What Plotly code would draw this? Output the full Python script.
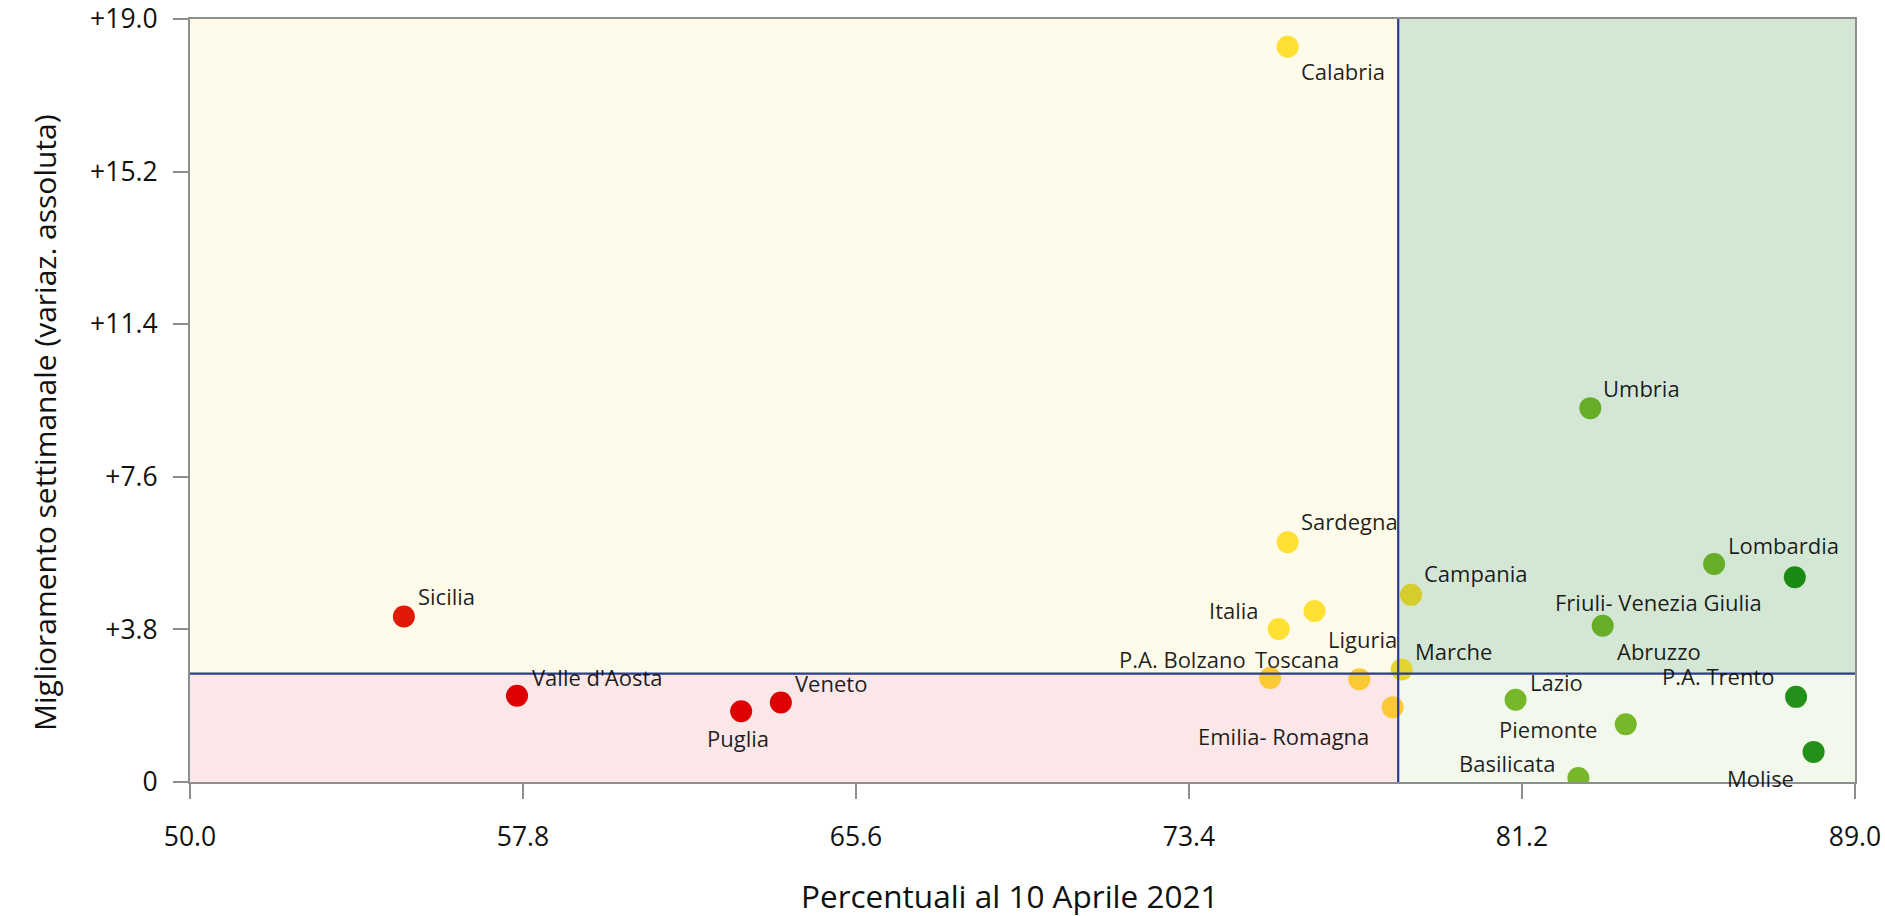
import plotly.graph_objects as go

# ---------------- data ----------------
REGIONS = ["Calabria", "Sardegna", "Italia", "Liguria", "P.A. Bolzano", "Toscana",
           "Emilia- Romagna", "Marche", "Campania", "Umbria", "Lombardia",
           "Friuli- Venezia Giulia", "Abruzzo", "Lazio", "P.A. Trento", "Piemonte",
           "Basilicata", "Molise", "Sicilia", "Valle d'Aosta", "Puglia", "Veneto"]
PCT = [75.71, 75.71, 75.50, 76.34, 75.30, 77.39,
       78.17, 78.38, 78.60, 82.80, 85.70,
       87.59, 83.09, 81.05, 87.62, 83.63,
       82.52, 88.03, 55.01, 57.66, 62.91, 63.84]
IMPROVEMENT = [18.31, 5.97, 3.81, 4.26, 2.59, 2.56,
               1.86, 2.80, 4.66, 9.31, 5.43,
               5.10, 3.89, 2.05, 2.12, 1.44,
               0.10, 0.75, 4.12, 2.15, 1.76, 1.98]

X_THRESHOLD = 78.3
Y_THRESHOLD = 2.7
X_RANGE = [50.0, 89.0]
Y_RANGE = [0.0, 19.0]
X_TICKS = [50.0, 57.8, 65.6, 73.4, 81.2, 89.0]
X_TICK_LABELS = ["50.0", "57.8", "65.6", "73.4", "81.2", "89.0"]
Y_TICKS = [0.0, 3.8, 7.6, 11.4, 15.2, 19.0]
Y_TICK_LABELS = ["0", "+3.8", "+7.6", "+11.4", "+15.2", "+19.0"]
X_TITLE = "Percentuali al 10 Aprile 2021"
Y_TITLE = "Miglioramento settimanale (variaz. assoluta)"

# ---------------- styles ----------------
POINT_COLORS = ["#ffe033", "#ffe033", "#ffe033", "#ffe033", "#fcc934", "#fcc934",
                "#fcc934", "#e4d52e", "#d5cd2e", "#66ad28", "#66ad28",
                "#1a8a14", "#66ad28", "#77b82b", "#23901a", "#77b82b",
                "#77b82b", "#23901a", "#e01a06", "#dc0000", "#dc0000", "#dc0000"]
# (xanchor, xshift px, yshift px) for each label
LABEL_PLACEMENT = [("left", 12, -24), ("left", 12, 21), ("right", -19, 19), ("left", 12, -28),
                   ("right", -23, 19), ("right", -19, 20), ("right", -23, -29), ("left", 12, 19),
                   ("left", 12, 22), ("left", 12, 20), ("left", 13, 19), ("right", -32, -25),
                   ("left", 13, -25), ("left", 13, 18), ("right", -21, 21), ("right", -28, -5),
                   ("right", -22, 15), ("right", -19, -26), ("left", 13, 21), ("left", 14, 19),
                   ("center", -3, -27), ("left", 13, 19)]

FONT = "Open Sans"
AXIS_GRAY = "#8e8e8e"
LINE_BLUE = "#2e3c8c"
TEXT_COLOR = "#111111"

fig = go.Figure()

# quadrant backgrounds
quads = [
    (X_RANGE[0], X_THRESHOLD, Y_THRESHOLD, Y_RANGE[1], "#fffbeb"),
    (X_THRESHOLD, X_RANGE[1], Y_THRESHOLD, Y_RANGE[1], "#d3e7d4"),
    (X_RANGE[0], X_THRESHOLD, Y_RANGE[0], Y_THRESHOLD, "#fbe6e8"),
    (X_THRESHOLD, X_RANGE[1], Y_RANGE[0], Y_THRESHOLD, "#f2f8eb"),
]
for x0, x1, y0, y1, c in quads:
    fig.add_shape(type="rect", xref="x", yref="y", x0=x0, x1=x1, y0=y0, y1=y1,
                  fillcolor=c, line=dict(width=0), layer="below")

fig.add_trace(go.Scatter(
    x=PCT, y=IMPROVEMENT, mode="markers", text=REGIONS,
    marker=dict(size=22, color=POINT_COLORS, line=dict(width=0), opacity=1),
    cliponaxis=True, showlegend=False, hoverinfo="text"))

# threshold lines
fig.add_shape(type="line", xref="x", yref="y", x0=X_THRESHOLD, x1=X_THRESHOLD,
              y0=Y_RANGE[0], y1=Y_RANGE[1], line=dict(color=LINE_BLUE, width=2.2), layer="above")
fig.add_shape(type="line", xref="x", yref="y", x0=X_RANGE[0], x1=X_RANGE[1],
              y0=Y_THRESHOLD, y1=Y_THRESHOLD, line=dict(color=LINE_BLUE, width=2.2), layer="above")

for name, xv, yv, (anc, dx, dy) in zip(REGIONS, PCT, IMPROVEMENT, LABEL_PLACEMENT):
    fig.add_annotation(x=xv, y=yv, xref="x", yref="y", text=name, showarrow=False,
                       xanchor=anc, yanchor="middle", xshift=dx, yshift=dy,
                       borderpad=0, font=dict(family=FONT, size=22, color="rgba(0,0,0,0.88)"))

# axis titles
fig.add_annotation(x=0.4919, y=-0.1494, xref="paper", yref="paper", text=X_TITLE,
                   showarrow=False, xanchor="center", yanchor="middle",
                   font=dict(family=FONT, size=31.5, color=TEXT_COLOR))
fig.add_annotation(x=-0.0877, y=0.4718, xref="paper", yref="paper", text=Y_TITLE,
                   showarrow=False, xanchor="center", yanchor="middle", textangle=-90,
                   font=dict(family=FONT, size=30, color=TEXT_COLOR))

axis_common = dict(showline=True, mirror=True, linecolor=AXIS_GRAY, linewidth=2,
                   ticks="outside", ticklen=15, tickwidth=2, tickcolor=AXIS_GRAY,
                   showgrid=False, zeroline=False,
                   tickfont=dict(family=FONT, size=26.5, color=TEXT_COLOR))

fig.update_xaxes(range=X_RANGE, tickvals=X_TICKS, ticktext=X_TICK_LABELS,
                 ticklabelstandoff=15, **axis_common)
fig.update_yaxes(range=Y_RANGE, tickvals=Y_TICKS, ticktext=Y_TICK_LABELS,
                 ticklabelstandoff=10, **axis_common)

fig.update_layout(width=1885, height=916,
                  margin=dict(l=190, r=30, t=19, b=134, autoexpand=False),
                  paper_bgcolor="white", plot_bgcolor="white",
                  font=dict(family=FONT, color=TEXT_COLOR))

fig.write_html("out.html", config={"displayModeBar": False},
               post_script="document.body.style.margin='0';document.body.style.overflow='hidden';")
